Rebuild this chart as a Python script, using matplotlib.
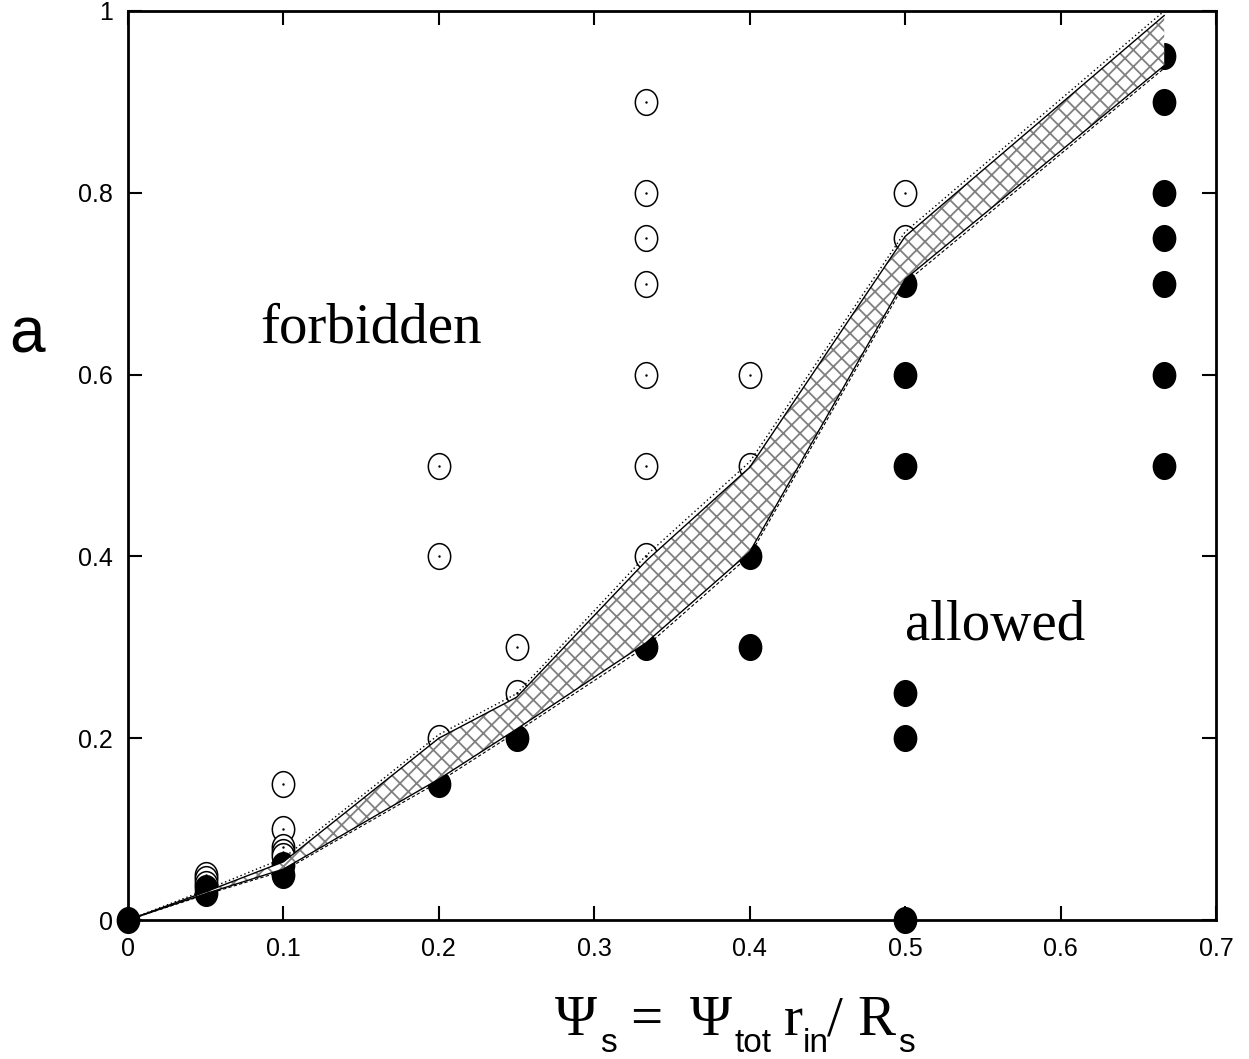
import matplotlib
matplotlib.use("Agg")
import matplotlib.pyplot as plt
import numpy as np
from matplotlib.path import Path
from matplotlib.transforms import Affine2D

plt.rcParams['font.family'] = ['Liberation Sans', 'DejaVu Sans']
plt.rcParams['hatch.color'] = '0.5'
plt.rcParams['hatch.linewidth'] = 1.3

# stable / unstable runs in the (psi_s, a) plane
open_x = [0.05, 0.05, 0.05,
          0.1, 0.1, 0.1, 0.1, 0.1,
          0.2, 0.2, 0.2,
          0.25, 0.25,
          1 / 3, 1 / 3, 1 / 3, 1 / 3, 1 / 3, 1 / 3, 1 / 3,
          0.4, 0.4,
          0.5, 0.5]
open_y = [0.05, 0.045, 0.04,
          0.15, 0.1, 0.08, 0.075, 0.07,
          0.5, 0.4, 0.2,
          0.3, 0.25,
          0.9, 0.8, 0.75, 0.7, 0.6, 0.5, 0.4,
          0.6, 0.5,
          0.8, 0.75]

filled_x = [0.0,
            0.05, 0.05,
            0.1, 0.1,
            0.2,
            0.25,
            1 / 3,
            0.4, 0.4,
            0.5, 0.5, 0.5, 0.5, 0.5, 0.5,
            2 / 3, 2 / 3, 2 / 3, 2 / 3, 2 / 3, 2 / 3, 2 / 3]
filled_y = [0.0,
            0.035, 0.03,
            0.06, 0.05,
            0.15,
            0.2,
            0.3,
            0.4, 0.3,
            0.7, 0.6, 0.5, 0.25, 0.2, 0.0,
            0.95, 0.9, 0.8, 0.75, 0.7, 0.6, 0.5]

# boundary band between forbidden and allowed
band_x = [0.0, 0.05, 0.1, 0.2, 0.25, 1 / 3, 0.4, 0.5, 2 / 3]
band_hi = [0.0, 0.031, 0.064, 0.2, 0.245, 0.395, 0.498, 0.752, 0.995]
band_lo = [0.0, 0.029, 0.056, 0.155, 0.21, 0.305, 0.405, 0.705, 0.94]
dotted_hi = [0.0, 0.033, 0.068, 0.204, 0.249, 0.401, 0.504, 0.757, 1.0]
dashed_lo = [0.0, 0.028, 0.054, 0.152, 0.207, 0.301, 0.401, 0.701, 0.937]

xticks = [0, 0.1, 0.2, 0.3, 0.4, 0.5, 0.6, 0.7]
xtick_labels = ['0', '0.1', '0.2', '0.3', '0.4', '0.5', '0.6', '0.7']
yticks = [0, 0.2, 0.4, 0.6, 0.8, 1.0]
ytick_labels = ['0', '0.2', '0.4', '0.6', '0.8', '1']

W, H = 1249, 1059
fig = plt.figure(figsize=(W / 100, H / 100), dpi=100)
ax = fig.add_axes([128 / W, 1 - 920 / H, (1216 - 128) / W, (920 - 11) / H])

# slightly tall ellipse marker
ell = Affine2D().scale(1.0, 1.15).transform_path(Path.unit_circle())

ax.plot(open_x, open_y, linestyle='none', marker=ell, markersize=18.5,
        markerfacecolor='white', markeredgecolor='black', markeredgewidth=1.1,
        clip_on=False, zorder=2)
ax.plot(open_x, open_y, linestyle='none', marker='.', markersize=1.5,
        color='black', zorder=2)
ax.plot(filled_x, filled_y, linestyle='none', marker=ell, markersize=18.5,
        markerfacecolor='black', markeredgecolor='black',
        clip_on=False, zorder=2)

ax.fill_between(band_x, band_lo, band_hi, facecolor='white', edgecolor='0.5',
                hatch='xx', linewidth=0, zorder=3)
ax.plot(band_x, band_hi, color='black', lw=1.0, zorder=4)
ax.plot(band_x, band_lo, color='black', lw=1.0, zorder=4)
ax.plot(band_x, dotted_hi, color='black', lw=1.0, linestyle=(0, (1, 2)), zorder=4)
ax.plot(band_x, dashed_lo, color='black', lw=0.8, linestyle=(0, (3, 2)), zorder=4)

ax.set_xlim(0, 0.7)
ax.set_ylim(0, 1)
ax.set_xticks(xticks)
ax.set_xticklabels(xtick_labels)
ax.set_yticks(yticks)
ax.set_yticklabels(ytick_labels)
ax.tick_params(direction='in', length=10, width=1.5, labelsize=18,
               top=True, right=True)
ax.tick_params(axis='x', pad=12)
ax.tick_params(axis='y', pad=11)
for s in ax.spines.values():
    s.set_linewidth(2)

serif = 'Liberation Serif'
ax.text(0.085, 0.635, 'forbidden', family=serif, fontsize=41, va='baseline')
ax.text(0.5, 0.308, 'allowed', family=serif, fontsize=41, va='baseline')

fig.text(9 / W, 1 - 353 / H, 'a', fontsize=46, va='baseline')

# x label assembled piece by piece: serif symbols, sans subscripts
base = 1 - 1035 / H
sub = 1 - 1052 / H
pieces = [
    (555, base, '\u03a8', serif, 41),
    (600, sub, 's', 'Liberation Sans', 24),
    (630, base, '=', serif, 41),
    (690, base, '\u03a8', serif, 41),
    (735, sub, 'tot', 'Liberation Sans', 24),
    (784, base, 'r', serif, 41),
    (803, sub, 'in', 'Liberation Sans', 24),
    (827, base, '/', serif, 41),
    (857, base, 'R', serif, 41),
    (898, sub, 's', 'Liberation Sans', 24),
]
for px, fy, s, fam, size in pieces:
    fig.text(px / W, fy, s, family=fam, fontsize=size, va='baseline')

fig.savefig('out.png', dpi=100)
